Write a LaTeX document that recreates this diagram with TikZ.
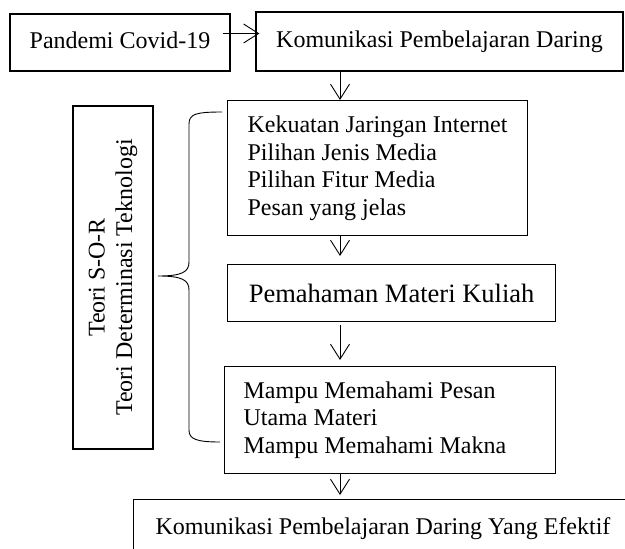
\documentclass[tikz,border=0pt]{standalone}
\usepackage{fontspec}
\setmainfont{Liberation Serif}
\usetikzlibrary{arrows.meta,positioning}
\tikzset{
  kotak/.style={draw, line width=1.2pt, inner sep=0pt, font=\fontsize{24}{27.5}\selectfont},
  satubaris/.style={text height=16pt, text depth=5pt},
  panah/.style={-{Straight Barb[length=15pt,width=19pt]}, line width=0.9pt},
}
\begin{document}
\begin{tikzpicture}[x=1pt,y=-1pt]
	\useasboundingbox (0,0) rectangle (625,549);
	\clip (0,0) rectangle (625,549);
	% baris atas
	\node[kotak, satubaris, minimum width=220pt, minimum height=57pt] (pandemi) at (120,42.5) {Pandemi Covid-19};
	\node[kotak, satubaris, minimum width=367pt, minimum height=59pt] (daring) at (439.5,41.5) {Komunikasi Pembelajaran Daring};
	% kolom tengah
	\node[kotak, anchor=north west, text width=264pt, inner xsep=18pt, minimum height=135pt, align=flush left] (kekuatan) at (227,100)
		{\hspace*{2pt}Kekuatan Jaringan Internet\\\hspace*{2pt}Pilihan Jenis Media\\\hspace*{2pt}Pilihan Fitur Media\\\hspace*{2pt}Pesan yang jelas};
	\node[kotak, anchor=north west, minimum width=328pt, minimum height=57pt, font=\fontsize{26.5}{30}\selectfont] (pemahaman) at (227,264) {Pemahaman Materi Kuliah};
	\node[kotak, anchor=north west, text width=293pt, inner xsep=19pt, minimum height=107pt, align=flush left] (mampu) at (224,366)
		{Mampu Memahami Pesan\\Utama Materi\\Mampu Memahami Makna};
	\node[kotak, satubaris, anchor=north west, text width=500pt, inner xsep=22pt, inner ysep=19pt, align=flush left] (efektif) at (133,499)
		{Komunikasi Pembelajaran Daring Yang Efektif};
	% teori
	\node[kotak, rotate=90, minimum width=343pt, minimum height=80pt, align=flush center] (teori) at (113,277.5)
		{Teori S-O-R\\Teori Determinasi Teknologi};
	\draw[line width=0.9pt] (222,112) .. controls (196,112) and (189,114) .. (189,124) -- (189,262)
		.. controls (189,272) and (182,276) .. (158,276)
		.. controls (182,276) and (189,280) .. (189,290) -- (189,430)
		.. controls (189,439) and (196,442) .. (220,442);
	% panah
	\coordinate (sumbu) at (340,0);
	\draw[panah] ([xshift=-8pt,yshift=9pt]pandemi.east) -- ([xshift=4pt,yshift=9pt]pandemi.east -| daring.west);
	\draw[panah] (daring.south -| sumbu) -- (kekuatan.north -| sumbu);
	\draw[panah] (kekuatan.south -| sumbu) -- ([yshift=8pt]pemahaman.north -| sumbu);
	\draw[panah] ([yshift=-3pt]pemahaman.south -| sumbu) -- ([yshift=6pt]mampu.north -| sumbu);
	\draw[panah] (mampu.south -| sumbu) -- ([yshift=4pt]efektif.north -| sumbu);
\end{tikzpicture}
\end{document}
